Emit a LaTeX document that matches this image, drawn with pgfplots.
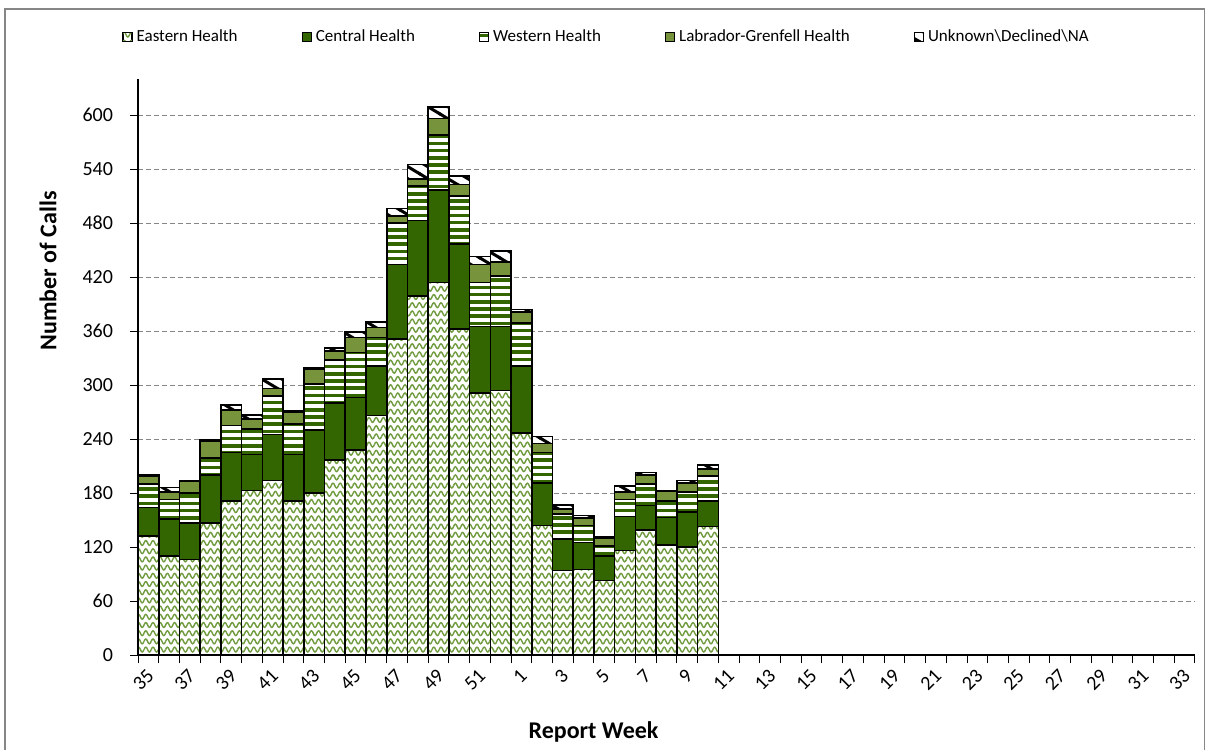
\documentclass[border=0pt]{standalone}
\usepackage{fontspec}
\setmainfont{Carlito}
\usepackage{pgfplots}
\pgfplotsset{compat=1.18}
\usepackage{pgfplotstable}
\usetikzlibrary{patterns}

\definecolor{centralgreen}{RGB}{51,102,0}
\definecolor{labgreen}{RGB}{119,147,60}
\definecolor{eastgreen}{RGB}{112,155,62}
\definecolor{gridgray}{RGB}{134,134,134}
\definecolor{framegray}{RGB}{134,134,134}

\pgfdeclarepatternformonly{wavy}{\pgfqpoint{-0.5bp}{-0.8bp}}{\pgfqpoint{4.1bp}{3.2bp}}{\pgfqpoint{3.6bp}{4.1bp}}{%
  \pgfsetlinewidth{0.7bp}%
  \pgfpathmoveto{\pgfqpoint{0bp}{1.0bp}}%
  \pgfpathcurveto{\pgfqpoint{0.6bp}{2.6bp}}{\pgfqpoint{1.2bp}{2.6bp}}{\pgfqpoint{1.8bp}{1.0bp}}%
  \pgfpathcurveto{\pgfqpoint{2.4bp}{-0.6bp}}{\pgfqpoint{3.0bp}{-0.6bp}}{\pgfqpoint{3.6bp}{1.0bp}}%
  \pgfusepath{stroke}%
}
\pgfdeclarepatternformonly{hstripes}{\pgfqpoint{-0.5bp}{0bp}}{\pgfqpoint{4.5bp}{3.6bp}}{\pgfqpoint{4bp}{3.6bp}}{%
  \pgfpathrectangle{\pgfqpoint{-0.5bp}{0bp}}{\pgfqpoint{5bp}{1.8bp}}%
  \pgfusepath{fill}%
}
\pgfdeclarepatternformonly{bslash}{\pgfqpoint{-1bp}{-1bp}}{\pgfqpoint{11bp}{7bp}}{\pgfqpoint{10bp}{6bp}}{%
  \pgfsetlinewidth{1.5bp}%
  \pgfpathmoveto{\pgfqpoint{-1bp}{6.6bp}}%
  \pgfpathlineto{\pgfqpoint{11bp}{-0.6bp}}%
  \pgfusepath{stroke}%
}

\pgfplotstableread{
x E C W L U
0 132 32 26 9 1
1 110 41 22 8 5
2 106 41 33 13 1
3 147 53 19 19 1
4 171 54 30 17 6
5 183 40 28 11 5
6 194 51 43 8 11
7 171 52 34 13 1
8 180 70 51 17 1
9 217 63 48 10 3
10 228 58 50 17 6
11 266 55 32 11 6
12 351 83 46 8 8
13 399 84 38 8 16
14 414 103 61 18 13
15 362 95 53 13 9
16 291 74 49 20 9
17 294 71 56 16 12
18 247 74 48 12 3
19 144 47 34 10 8
20 94 35 28 5 5
21 95 30 19 8 3
22 83 27 11 9 1
23 116 38 19 8 7
24 139 27 24 10 3
25 122 31 18 11 1
26 120 39 22 10 3
27 143 28 28 8 4
}\data

\pgfplotsset{
  mylegend/.style={legend image code/.code={\draw[##1, line width=0.5bp] (0bp,-2.3bp) rectangle (4.6bp,2.3bp);}},
}

\begin{document}
\begin{tikzpicture}
\useasboundingbox (0,0) rectangle (603.5bp,-375bp);
\draw[framegray, line width=0.8bp] (2.5bp,-390bp) -- (2.5bp,-4.35bp) -- (602.3bp,-4.35bp) -- (602.3bp,-390bp);
\begin{axis}[
  at={(69bp,-327.5bp)}, anchor=south west,
  scale only axis, width=528.5bp, height=288bp,
  ybar stacked, bar width=1,
  xmin=-0.5, xmax=50.5, ymin=0, ymax=640,
  enlargelimits=false,
  axis x line*=bottom, axis y line*=left,
  axis line style={-, black, line width=0.75bp},
  tick align=outside,
  major tick length=4bp,
  tick style={black, line width=0.5bp},
  ytick={0,60,...,600},
  xtick={-0.5,0.5,...,50.5},
  xticklabels={},
  extra x ticks={0,2,...,50},
  extra x tick labels={35,37,39,41,43,45,47,49,51,1,3,5,7,9,11,13,15,17,19,21,23,25,27,29,31,33},
  extra x tick style={major tick length=0pt},
  xticklabel style={xshift=3.5bp, yshift=-6.5bp, rotate=45, anchor=east, font=\fontsize{10bp}{12bp}\selectfont},
  yticklabel style={xshift=-5bp, font=\fontsize{10bp}{12bp}\selectfont},
  /pgf/number format/assume math mode=true,
  ymajorgrids,
  major grid style={gridgray, line width=0.5bp, dash pattern=on 2.5bp off 1.5bp},
  xlabel={Report Week},
  ylabel={Number of Calls},
  label style={font=\bfseries\fontsize{12bp}{14bp}\selectfont},
  xlabel style={at={(axis description cs:0.431,-0.134)}, anchor=center},
  ylabel style={at={(axis description cs:-0.085,0.667)}, anchor=center},
  legend style={at={(axis description cs:-0.0151,1.073)}, anchor=west, draw=none, fill=none,
    font=\fontsize{8.5bp}{10bp}\selectfont, inner sep=0pt,
    /tikz/every even column/.append style={column sep=30bp}},
  legend columns=5,
  legend cell align=left,
]
\addplot[draw=black, line width=0.8bp, preaction={fill=white}, pattern=wavy, pattern color=eastgreen, mylegend] table[x=x,y=E] {\data};
\addplot[draw=black, line width=0.8bp, fill=centralgreen, mylegend] table[x=x,y=C] {\data};
\addplot[draw=black, line width=0.8bp, preaction={fill=white}, pattern=hstripes, pattern color=centralgreen, mylegend] table[x=x,y=W] {\data};
\addplot[draw=black, line width=0.8bp, fill=labgreen, mylegend] table[x=x,y=L] {\data};
\addplot[draw=black, line width=0.8bp, preaction={fill=white}, pattern=bslash, pattern color=black, mylegend] table[x=x,y=U] {\data};
\legend{Eastern Health, Central Health, Western Health, Labrador-Grenfell Health, Unknown\textbackslash Declined\textbackslash NA}
\end{axis}
\end{tikzpicture}
\end{document}
